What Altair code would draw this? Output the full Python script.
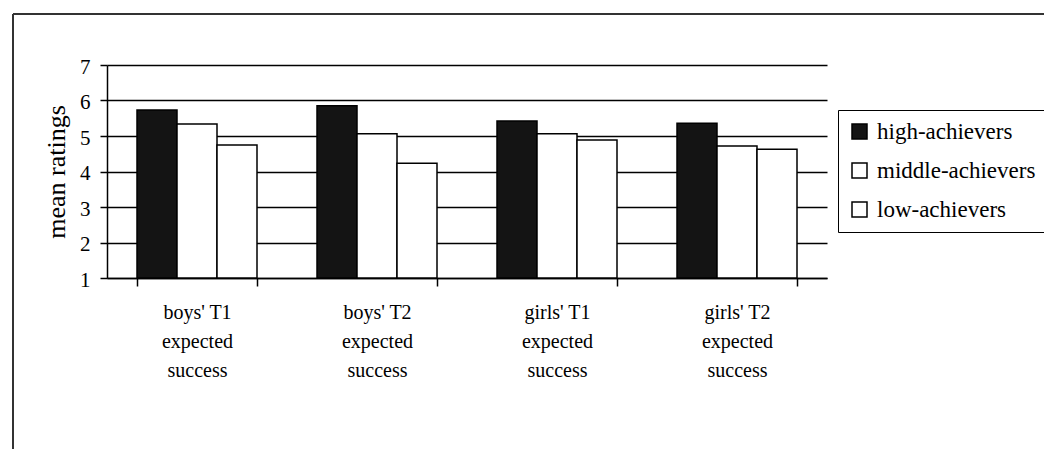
import altair as alt
import pandas as pd

categories = [
    "boys' T1\nexpected\nsuccess",
    "boys' T2\nexpected\nsuccess",
    "girls' T1\nexpected\nsuccess",
    "girls' T2\nexpected\nsuccess",
]
groups = ["high-achievers", "middle-achievers", "low-achievers"]
high = [5.73, 5.85, 5.42, 5.36]
middle = [5.34, 5.06, 5.06, 4.72]
low = [4.75, 4.23, 4.89, 4.63]
y_ticks = [1, 2, 3, 4, 5, 6, 7]

rows = []
for i, c in enumerate(categories):
    for g, vals in zip(groups, [high, middle, low]):
        rows.append({"category": c, "group": g, "value": vals[i]})
df = pd.DataFrame(rows)

FONT = "Liberation Serif"

bars = alt.Chart(df).mark_bar(stroke="black", strokeWidth=1.5).encode(
    x=alt.X(
        "category:N",
        sort=categories,
        scale=alt.Scale(paddingInner=1 / 3, paddingOuter=1 / 6),
        axis=alt.Axis(
            title=None,
            labelAngle=0,
            tickBand="extent",
            labelExpr="split(datum.label, '\\n')",
            labelFont=FONT,
            labelFontSize=20,
            labelLineHeight=29,
            labelPadding=16,
            labelColor="black",
            tickSize=8,
            tickColor="black",
            tickWidth=1.5,
            domainColor="black",
            domainWidth=1.5,
            grid=False,
        ),
    ),
    xOffset=alt.XOffset("group:N", sort=groups, scale=alt.Scale(paddingInner=0, paddingOuter=0)),
    y=alt.Y(
        "value:Q",
        scale=alt.Scale(domain=[1, 7], nice=False, zero=False),
        axis=alt.Axis(
            title="mean ratings",
            titleFont=FONT,
            titleFontSize=26,
            titleFontWeight="normal",
            titleColor="black",
            titlePadding=10,
            values=y_ticks,
            format="d",
            labelFont=FONT,
            labelFontSize=21,
            labelColor="black",
            labelPadding=10,
            labelOffset=2,
            tickSize=7,
            tickColor="black",
            tickWidth=1.5,
            domainColor="black",
            domainWidth=1.5,
            grid=True,
            gridColor="black",
            gridWidth=1.6,
            gridOpacity=1,
        ),
    ),
    y2=alt.datum(1),
    fill=alt.Fill(
        "group:N",
        sort=groups,
        scale=alt.Scale(domain=groups, range=["#141414", "white", "white"]),
        legend=alt.Legend(
            title=None,
            orient="none",
            legendX=731,
            legendY=45,
            direction="vertical",
            strokeColor="black",
            padding=10,
            rowPadding=15,
            symbolType="square",
            symbolSize=225,
            symbolStrokeColor="black",
            symbolStrokeWidth=1.5,
            labelFont=FONT,
            labelFontSize=23,
            labelColor="black",
            labelOffset=6,
            labelLimit=300,
        ),
    ),
)

frame_df = pd.DataFrame({"k": [0]})
frame_top = alt.Chart(frame_df).mark_rule(color="#333333", strokeWidth=2).encode(
    x=alt.value(-94), x2=alt.value(945), y=alt.value(-51)
)
frame_left = alt.Chart(frame_df).mark_rule(color="#333333", strokeWidth=2).encode(
    x=alt.value(-94), y=alt.value(-51), y2=alt.value(400)
)

chart = alt.layer(frame_top, frame_left, bars).properties(
    width=720,
    height=213,
    padding={"left": 99, "top": 57, "right": 217, "bottom": 171},
    autosize=alt.AutoSizeParams(type="none"),
).configure_view(strokeWidth=0)

chart.save("out.html", embed_options={"renderer": "svg", "actions": False})
